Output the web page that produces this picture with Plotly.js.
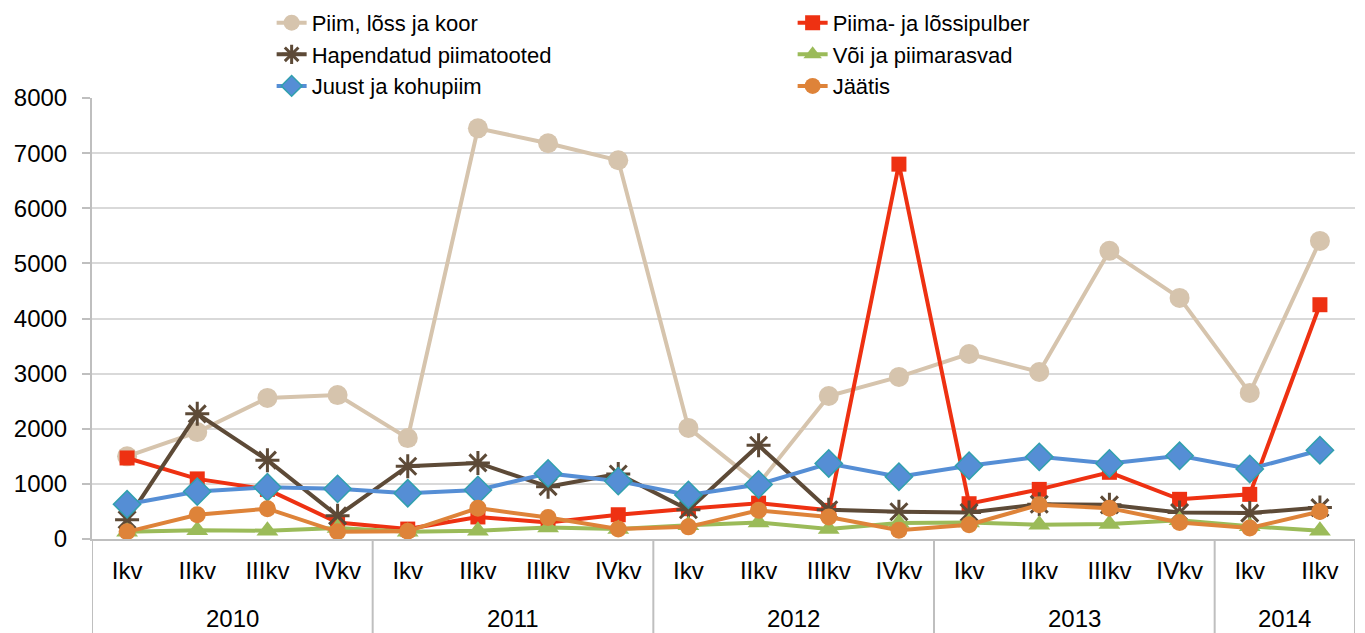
<!DOCTYPE html>
<html>
<head>
<meta charset="utf-8">
<script src="https://cdn.plot.ly/plotly-3.0.1.min.js"></script>
<style>html,body{margin:0;padding:0;background:#fff;}#chart{width:1365px;height:633px;}</style>
</head>
<body>
<div id="chart"></div>
<script>
const years = ["2010","2010","2010","2010","2011","2011","2011","2011","2012","2012","2012","2012","2013","2013","2013","2013","2014","2014"];
const quarters = ["Ikv","IIkv","IIIkv","IVkv","Ikv","IIkv","IIIkv","IVkv","Ikv","IIkv","IIIkv","IVkv","Ikv","IIkv","IIIkv","IVkv","Ikv","IIkv"];

const piim = [1500,1940,2560,2610,1830,7450,7180,6870,2015,1000,2595,2940,3357,3030,5227,4374,2650,5408];
const pulber = [1470,1090,900,300,180,400,300,440,550,650,520,6800,640,900,1210,720,810,4250];
const hapendatud = [350,2270,1430,420,1320,1380,950,1180,530,1700,530,495,480,630,620,480,470,570];
const voi = [130,160,150,200,130,150,210,180,250,300,180,290,300,260,270,340,230,150];
const juust = [630,860,940,910,830,890,1190,1050,800,990,1370,1130,1330,1490,1370,1510,1270,1610];
const jaatis = [130,440,550,130,140,560,390,180,220,520,400,160,260,620,560,300,200,500];

const seriesNames = ["Piim, lõss ja koor","Piima- ja lõssipulber","Hapendatud piimatooted","Või ja piimarasvad","Juust ja kohupiim","Jäätis"];

// category index positions derived from the data
const idx = quarters.map((_, i) => i);
const n = quarters.length;

// year groups: centre for label, boundaries for dividers
const groups = [];
years.forEach((yv, i) => {
  if (!groups.length || groups[groups.length - 1].year !== yv) groups.push({year: yv, start: i, end: i});
  else groups[groups.length - 1].end = i;
});

const GRID = '#BFBFBF';
const plotH = 633 - 98 - 94;
const bottomPaper = -94 / plotH;

const yearAnnotations = groups.map(g => ({
  x: (g.start + g.end) / 2, xref: 'x', y: -(618 - 539) / plotH, yref: 'paper',
  text: g.year, showarrow: false, xanchor: 'center', yanchor: 'middle',
  font: {size: 24, color: '#000', family: 'Liberation Sans, Arial, sans-serif'}
}));

const boundaries = groups.map(g => g.start - 0.5).concat([n - 0.5]);
const dividerShapes = boundaries.map(b => ({
  type: 'line', xref: 'x', yref: 'paper', x0: b, x1: b, y0: 0, y1: bottomPaper,
  line: {color: GRID, width: 2}
}));

const traces = [
  {name: seriesNames[0], y: piim, line:{color:'#D6C4AD', width:4}, marker:{symbol:'circle', size:20, color:'#D6C4AD'}},
  {name: seriesNames[1], y: pulber, line:{color:'#EE3112', width:4}, marker:{symbol:'square', size:15, color:'#EE3112'}},
  {name: seriesNames[2], y: hapendatud, line:{color:'#5D4A37', width:4}, marker:{symbol:'asterisk-open', size:20, color:'#5D4A37', line:{color:'#5D4A37', width:3}}},
  {name: seriesNames[3], y: voi, line:{color:'#9BBB59', width:4}, marker:{symbol:'triangle-up', size:19, color:'#9BBB59'}},
  {name: seriesNames[4], y: juust, line:{color:'#558ED5', width:4}, marker:{symbol:'diamond', size:21, color:'#558ED5', line:{color:'#31A0AE', width:1.5}}},
  {name: seriesNames[5], y: jaatis, line:{color:'#DE8339', width:4}, marker:{symbol:'circle', size:17, color:'#DE8339'}}
].map(t => Object.assign({type:'scatter', mode:'lines+markers', x: idx, cliponaxis:false}, t));

const layout = {
  width:1365, height:633,
  margin:{l:92, r:10, t:98, b:94, autoexpand:false},
  paper_bgcolor:'#fff', plot_bgcolor:'#fff',
  font:{family:'Liberation Sans, Arial, sans-serif', size:24, color:'#000'},
  showlegend:true,
  legend:{orientation:'h', xref:'container', yref:'container', x:0.199, y:0.997, xanchor:'left', yanchor:'top',
          entrywidth:476, entrywidthmode:'pixels', font:{size:22, color:'#000'}, tracegroupgap:0, itemgap:5,
          bgcolor:'rgba(0,0,0,0)'},
  xaxis:{type:'linear', range:[-0.5, n - 0.5], tickmode:'array', tickvals: idx, ticktext: quarters,
         showline:true, linecolor:GRID, linewidth:2, showgrid:false, ticks:'', zeroline:false,
         tickfont:{size:24, color:'#000'}, ticklabelstandoff:9},
  yaxis:{range:[0,8000], dtick:1000, tick0:0, showline:true, linecolor:GRID, linewidth:2,
         showgrid:true, gridcolor:'#D9D9D9', gridwidth:2, ticks:'outside', ticklen:8, tickcolor:GRID, tickwidth:2,
         tickfont:{size:24, color:'#000'}, zeroline:false, ticklabelstandoff:10},
  annotations: yearAnnotations,
  shapes: dividerShapes
};

Plotly.newPlot('chart', traces, layout, {displayModeBar:false, staticPlot:true});
</script>
</body>
</html>
